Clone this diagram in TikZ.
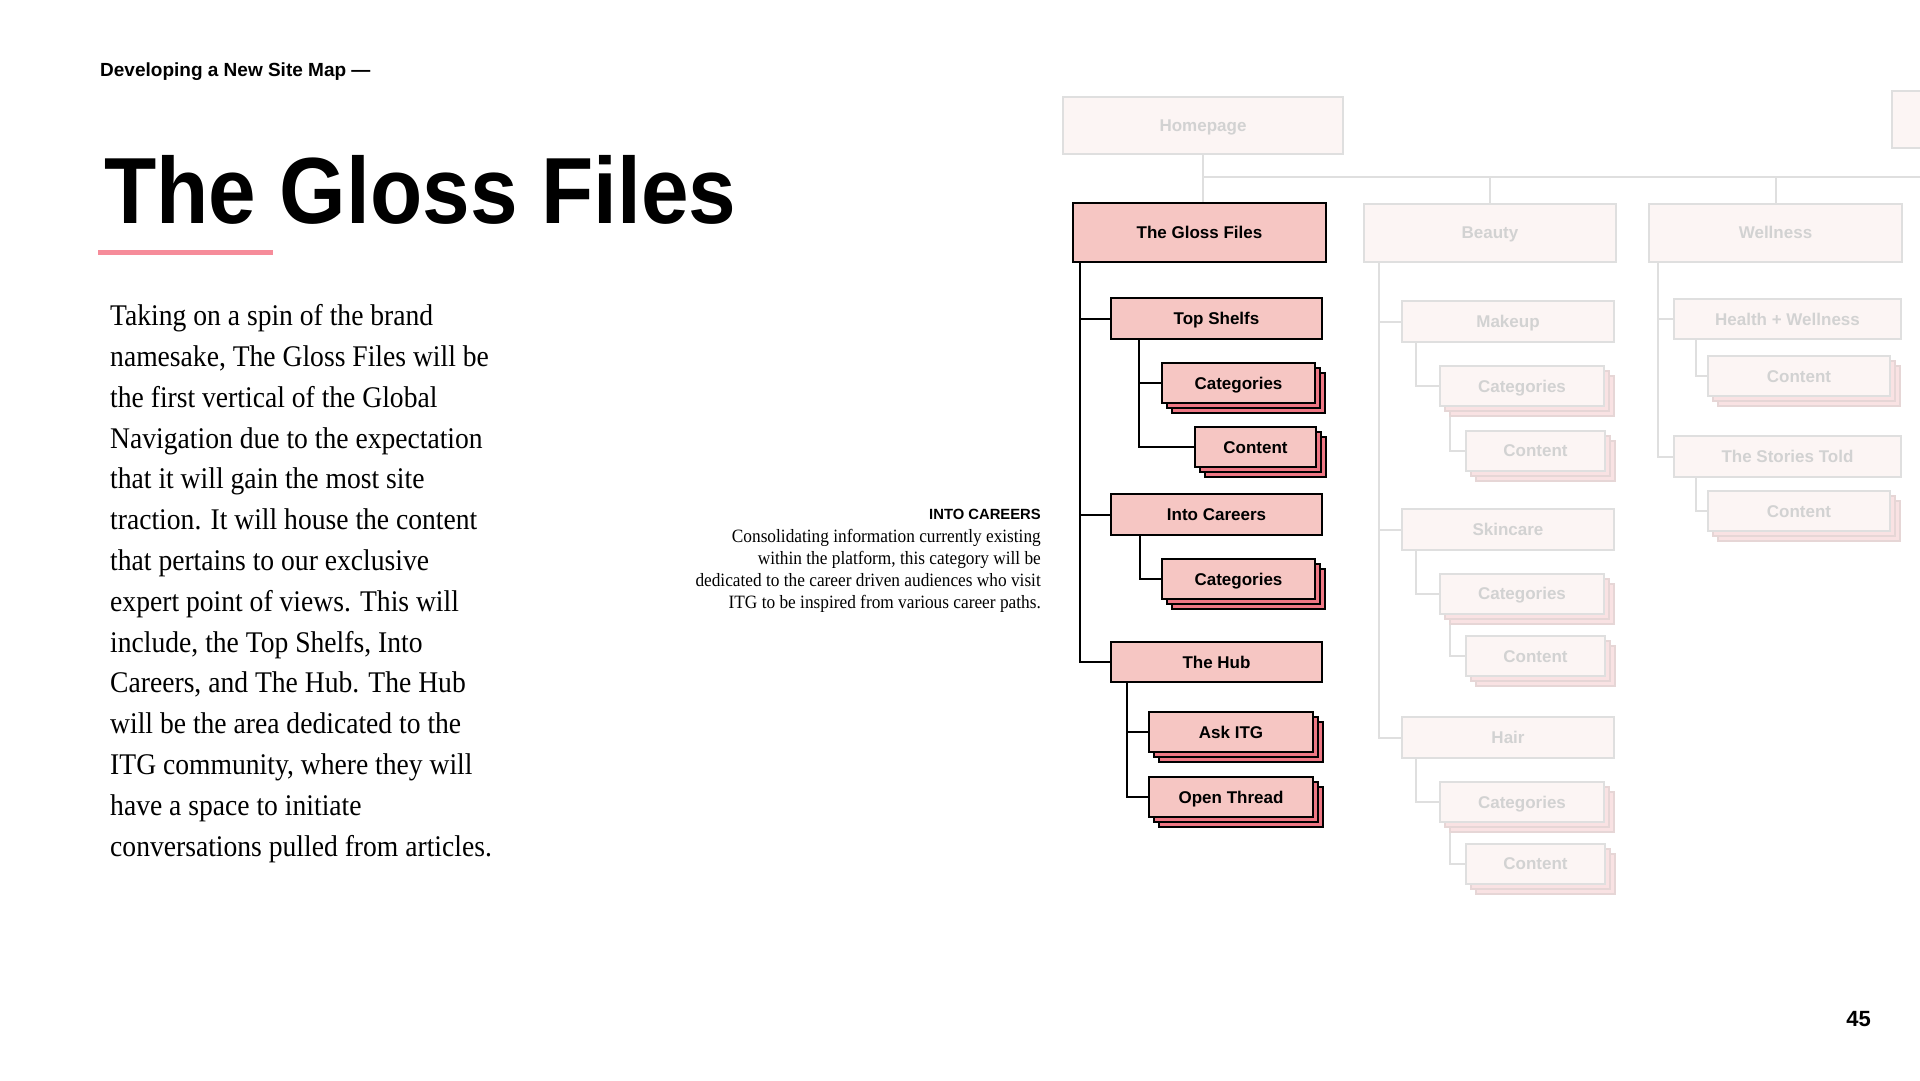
\documentclass[tikz,border=0pt]{standalone}
\usepackage{fontspec}
\setmainfont{Liberation Sans}
\newfontfamily\bookfont{Liberation Serif}[FakeStretch=0.92]
\newfontfamily\titlefont{Liberation Sans}[FakeStretch=0.91]
\usetikzlibrary{shadows}

\definecolor{glosspink}{HTML}{F6C6C3}
\definecolor{stackred}{HTML}{EE7784}
\definecolor{fadefill}{HTML}{FCF5F4}
\definecolor{fadeline}{HTML}{DFDFDF}
\definecolor{fadetext}{HTML}{D2D2D2}
\definecolor{fadestackfill}{HTML}{F9E2E3}
\definecolor{fadestackline}{HTML}{E6D6D6}
\definecolor{underpink}{HTML}{F68C9A}

\begin{document}
\begin{tikzpicture}[x=1pt,y=-1pt,
  box/.style={rectangle, inner sep=0pt, line width=2pt, minimum height=40pt,
    text height=12.5pt, text depth=0pt,
    font=\bfseries\fontsize{17}{20}\selectfont},
  glossbox/.style={box, draw=black, fill=glosspink},
  fadebox/.style={box, draw=fadeline, fill=fadefill, text=fadetext},
  pinkstack/.style={glossbox,
    copy shadow={shadow xshift=10pt, shadow yshift=-10pt, fill=stackred, draw=black, line width=2pt},
    copy shadow={shadow xshift=5pt, shadow yshift=-5pt, fill=stackred, draw=black, line width=2pt}},
  fadestack/.style={fadebox,
    copy shadow={shadow xshift=10pt, shadow yshift=-10pt, fill=fadestackfill, draw=fadestackline, line width=2pt},
    copy shadow={shadow xshift=5pt, shadow yshift=-5pt, fill=fadestackfill, draw=fadestackline, line width=2pt}},
  link/.style={black, line width=2pt},
  fadelink/.style={fadeline, line width=2pt}]
\useasboundingbox (0,0) rectangle (1920,1080);
\clip (0,0) rectangle (1920,1080);

% left column
\node[anchor=base west, inner sep=0pt, font=\bfseries\fontsize{19}{22}\selectfont] (kicker) at (100,76) {Developing a New Site Map ---};
\node[anchor=base west, inner sep=0pt, font=\titlefont\bfseries\fontsize{94}{100}\selectfont] (title) at (104,223) {The Gloss Files};
\draw[underpink, line width=5pt] (98,252) -- (273,252);
\node[anchor=base west, inner sep=0pt, align=left, font=\bookfont\fontsize{30}{40.8}\selectfont] (body) at (110,856) {%
Taking on a spin of the brand\\
namesake, The Gloss Files will be\\
the first vertical of the Global\\
Navigation due to the expectation\\
that it will gain the most site\\
traction. It will house the content\\
that pertains to our exclusive\\
expert point of views. This will\\
include, the Top Shelfs, Into\\
Careers, and The Hub. The Hub\\
will be the area dedicated to the\\
ITG community, where they will\\
have a space to initiate\\
conversations pulled from articles.};

\node[anchor=base east, inner sep=0pt, font=\bfseries\fontsize{14.8}{16}\selectfont] (notehead) at (1041,519) {INTO CAREERS};
\node[anchor=base east, inner sep=0pt, align=right, font=\bookfont\fontsize{18.8}{22}\selectfont] (note) at (1041,608) {%
Consolidating information currently existing\\
within the platform, this category will be\\
dedicated to the career driven audiences who visit\\
ITG to be inspired from various career paths.};

\node[anchor=base east, inner sep=0pt, font=\bfseries\fontsize{22}{24}\selectfont] (pageno) at (1871,1026) {45};

% top level
\node[fadebox, minimum width=280pt, minimum height=57pt] (home) at (1203,125.5) {Homepage};
\node[fadebox, minimum width=280pt, minimum height=57pt] (next) at (2032,119.5) {};
\node[glossbox, minimum width=253pt, minimum height=59pt] (gloss) at (1199.5,232.5) {The Gloss Files};
\node[fadebox, minimum width=252pt, minimum height=58pt] (beauty) at (1490,232.5) {Beauty};
\node[fadebox, minimum width=253pt, minimum height=58pt] (wellness) at (1775.5,232.5) {Wellness};

\coordinate (bus) at (1203,177);
\coordinate (busend) at (1920,177);
\draw[fadelink] (home.south) -- (home.south |- gloss.north);
\draw[fadelink] (bus) -- (busend);
\draw[fadelink] (beauty.north) -- (beauty.north |- bus);
\draw[fadelink] (wellness.north) -- (wellness.north |- bus);

% the gloss files
\node[glossbox, minimum width=211pt, minimum height=41pt] (shelfs) at (1216.5,318.5) {Top Shelfs};
\node[pinkstack, minimum width=153pt] (shelfcat) at (1238.5,383) {Categories};
\node[pinkstack, minimum width=121pt] (shelfcon) at (1255.5,447) {Content};
\node[glossbox, minimum width=211pt, minimum height=41pt] (careers) at (1216.5,514.5) {Into Careers};
\node[pinkstack, minimum width=153pt] (careercat) at (1238.5,579) {Categories};
\node[glossbox, minimum width=211pt] (hub) at (1216.5,662) {The Hub};
\node[pinkstack, minimum width=164pt] (ask) at (1231,732) {Ask ITG};
\node[pinkstack, minimum width=164pt] (thread) at (1231,797) {Open Thread};

\draw[link] ([xshift=8pt]gloss.south west) |- (shelfs.west);
\draw[link] ([xshift=8pt]gloss.south west) |- (careers.west);
\draw[link] ([xshift=8pt]gloss.south west) |- (hub.west);
\draw[link] ([xshift=29pt]shelfs.south west) |- (shelfcat.west);
\draw[link] ([xshift=29pt]shelfs.south west) |- (shelfcon.west);
\draw[link] ([xshift=30pt]careers.south west) |- (careercat.west);
\draw[link] ([xshift=17pt]hub.south west) |- (ask.west);
\draw[link] ([xshift=17pt]hub.south west) |- (thread.west);

% beauty
\node[fadebox, minimum width=212pt, minimum height=41pt] (makeup) at (1508,321.5) {Makeup};
\node[fadestack, minimum width=164pt] (makeupcat) at (1522,386) {Categories};
\node[fadestack, minimum width=139pt] (makeupcon) at (1535.5,450.5) {Content};
\node[fadebox, minimum width=212pt, minimum height=41pt] (skincare) at (1508,529.5) {Skincare};
\node[fadestack, minimum width=164pt] (skincat) at (1522,593.5) {Categories};
\node[fadestack, minimum width=139pt] (skincon) at (1535.5,656) {Content};
\node[fadebox, minimum width=212pt, minimum height=41pt] (hair) at (1508,737.5) {Hair};
\node[fadestack, minimum width=164pt] (haircat) at (1522,802) {Categories};
\node[fadestack, minimum width=139pt] (haircon) at (1535.5,863.5) {Content};

\draw[fadelink] ([xshift=16pt]beauty.south west) |- (makeup.west);
\draw[fadelink] ([xshift=16pt]beauty.south west) |- (skincare.west);
\draw[fadelink] ([xshift=16pt]beauty.south west) |- (hair.west);
\draw[fadelink] ([xshift=15pt]makeup.south west) |- (makeupcat.west);
\draw[fadelink] ([xshift=11pt,yshift=-10pt]makeupcat.south west) |- (makeupcon.west);
\draw[fadelink] ([xshift=15pt]skincare.south west) |- (skincat.west);
\draw[fadelink] ([xshift=11pt,yshift=-10pt]skincat.south west) |- (skincon.west);
\draw[fadelink] ([xshift=15pt]hair.south west) |- (haircat.west);
\draw[fadelink] ([xshift=11pt,yshift=-10pt]haircat.south west) |- (haircon.west);

% wellness
\node[fadebox, minimum width=227pt] (health) at (1787.5,319) {Health + Wellness};
\node[fadestack, minimum width=182pt] (healthcon) at (1799,376) {Content};
\node[fadebox, minimum width=227pt, minimum height=41pt] (stories) at (1787.5,456.5) {The Stories Told};
\node[fadestack, minimum width=182pt] (storiescon) at (1799,511) {Content};

\draw[fadelink] ([xshift=10pt]wellness.south west) |- (health.west);
\draw[fadelink] ([xshift=10pt]wellness.south west) |- (stories.west);
\draw[fadelink] ([xshift=23pt]health.south west) |- (healthcon.west);
\draw[fadelink] ([xshift=23pt]stories.south west) |- (storiescon.west);
\end{tikzpicture}
\end{document}
